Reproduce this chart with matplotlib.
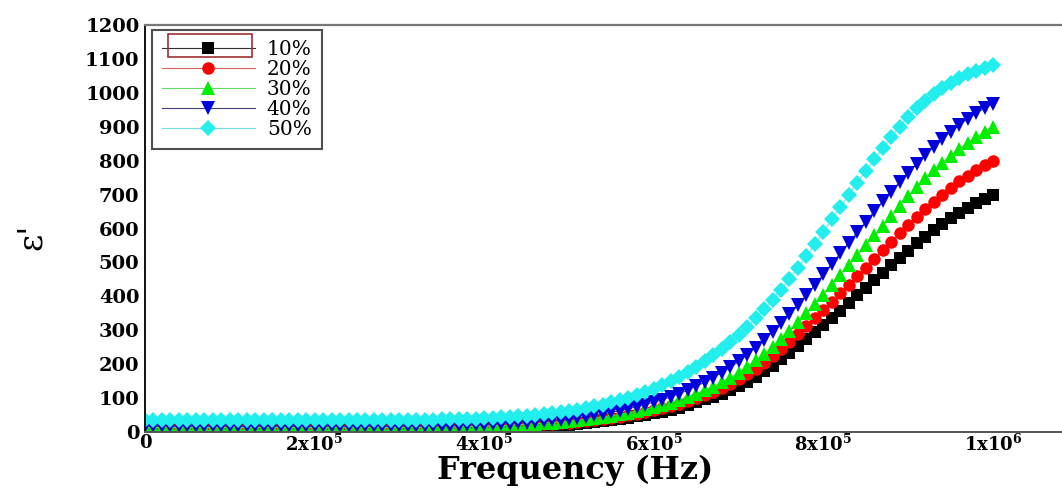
import numpy as np
import matplotlib
matplotlib.use('Agg')
import matplotlib.pyplot as plt
from matplotlib.patches import Rectangle

# ---------------- data ----------------
freq_hz = np.arange(101) * 1e4

eps_10 = [8, 8, 8, 8, 8, 8, 8, 8, 8, 8, 8, 8, 8, 8, 8, 8, 8, 8, 8, 8,
          8, 8, 8, 8, 8, 8, 8, 8, 8, 8, 8,
          8, 8, 9, 9, 9, 9, 10, 10, 10, 11,
          11.5, 12, 13, 14, 15, 16, 17, 18.5, 20, 22,
          24, 26, 28.5, 31.5, 35, 38.5, 42, 46, 50.5, 55,
          60, 65.5, 71.5, 79, 88, 96, 104.5, 113.5, 124, 135,
          148, 163, 179, 196, 215, 234, 254, 274, 294.5, 315,
          336, 358, 380, 402.5, 425, 447.5, 470, 492, 513.5, 535,
          556, 576, 595.5, 613.5, 630, 646, 661, 675, 688, 700]

eps_20 = [12, 12, 12, 12, 12, 12, 12, 12, 12, 12, 12, 12, 12, 12, 12, 12, 12, 12, 12, 12,
          12, 12, 12, 12, 12, 12, 12, 12, 12, 12, 12,
          12, 12, 13, 13, 13, 14, 14, 14, 15, 15,
          16, 17, 18, 19, 20, 21.5, 23, 24.5, 26, 28,
          30.5, 33, 35.5, 38.5, 42, 45.5, 49.5, 53.5, 58.5, 64,
          70, 76.5, 83.5, 91.5, 100, 109, 118.5, 129, 141, 155,
          170, 186.5, 204.5, 224, 245, 266.5, 289, 312, 336, 360,
          384.5, 409.5, 434.5, 460, 485, 510.5, 536, 561, 585.5, 610,
          634, 657, 679, 700, 720, 739, 756, 772, 787, 800]

eps_30 = [13, 13, 13, 13, 13, 13, 13, 13, 13, 13, 13, 13, 13, 13, 13, 13, 13, 13, 13, 13,
          13, 13, 13, 13, 13, 13, 13, 13, 13, 13, 13,
          13, 13, 14, 14, 14, 15, 15, 16, 16, 17,
          18, 19, 20.5, 21.5, 23, 24.5, 26, 28, 30, 32,
          34.5, 37.5, 40.5, 44, 48, 52, 56.5, 61.5, 67, 73,
          79.5, 86.5, 94, 103, 113, 123, 134, 146, 160, 175,
          192, 211, 231, 252, 275, 299, 324, 350, 377, 405,
          433.5, 462.5, 491.5, 520.5, 550, 579.5, 608.5, 637.5, 666.5, 695,
          722.5, 748, 772, 794.5, 815, 834.5, 852.5, 869.5, 885.5, 900]

eps_40 = [17, 17, 17, 17, 17, 17, 17, 17, 17, 17, 17, 17, 17, 17, 17, 17, 17, 17, 17, 17,
          17, 17, 17, 17, 17, 17, 17, 17, 17, 17, 17,
          17, 17, 18, 18, 18, 19, 19, 20, 20, 21,
          22.5, 24, 25, 26.5, 28, 30, 32, 34, 36.5, 39,
          42, 45.5, 49, 53.5, 58, 63, 68.5, 74.5, 81, 88,
          95.5, 104, 113, 123.5, 135, 147, 160.5, 175, 190.5, 208,
          227.5, 249, 271.5, 295, 320, 346.5, 374.5, 404, 434, 465,
          496, 527, 558, 589, 620, 650.5, 680, 709, 737.5, 765,
          791.5, 816.5, 840.5, 863.5, 885, 905, 923, 939.5, 954.5, 968]

eps_50 = [35, 35, 35, 35, 35, 35, 35, 35, 35, 35, 35, 35, 35, 35, 35, 35, 35, 35, 35, 35,
          35, 35, 35, 35, 35, 35, 35, 35, 35, 35, 35,
          35, 35, 36, 36, 37, 37, 38, 38, 39, 40,
          41.5, 43, 44.5, 46, 48, 50, 52.5, 55, 58.5, 62,
          66, 70.5, 75.5, 81, 87, 94, 101.5, 109.5, 118.5, 128,
          138.5, 150, 162.5, 176.5, 192, 208.5, 226, 244.5, 264, 285,
          309, 335, 362, 390.5, 420, 451.5, 484.5, 518.5, 553.5, 590,
          627, 663.5, 699.5, 735, 770, 804.5, 837.5, 869.5, 900.5, 930,
          955, 977, 997, 1015, 1030, 1043, 1054.5, 1065, 1074.5, 1083]

series_labels = ['10%', '20%', '30%', '40%', '50%']
series_values = [eps_10, eps_20, eps_30, eps_40, eps_50]

x_ticks = [0, 2e5, 4e5, 6e5, 8e5, 1e6]
x_tick_labels = ['0', '2x10$^{5}$', '4x10$^{5}$', '6x10$^{5}$', '8x10$^{5}$', '1x10$^{6}$']
y_ticks = list(range(0, 1201, 100))

# ---------------- styles ----------------
marker_colors = ['#000000', '#ff0000', '#00ee00', '#0000dd', '#22eeee']
line_colors = ['#303030', '#e06060', '#60dd60', '#404080', '#70e0e0']
markers = ['s', 'o', '^', 'v', 'D']
msizes = [8.5, 9, 10.5, 10.5, 8.5]

plt.rcParams['mathtext.fontset'] = 'custom'
plt.rcParams['mathtext.rm'] = 'DejaVu Serif:bold'
plt.rcParams['mathtext.it'] = 'DejaVu Serif:bold'
plt.rcParams['mathtext.bf'] = 'DejaVu Serif:bold'

fig = plt.figure(figsize=(10.62, 4.88), dpi=100)
ax = fig.add_axes([145 / 1062, 56 / 488, 1 - 145 / 1062, 407 / 488])

for vals, lab, mk, mc, lc, ms in zip(series_values, series_labels, markers,
                                     marker_colors, line_colors, msizes):
    ax.plot(freq_hz, vals, color=lc, lw=0.8, marker=mk, markersize=ms,
            markerfacecolor=mc, markeredgecolor=mc, markeredgewidth=0, label=lab)

ax.set_xlim(0, 1e6 * (1062 - 145) / 848)
ax.set_ylim(0, 1200)
ax.set_xticks(x_ticks)
ax.set_xticklabels(x_tick_labels)
ax.set_yticks(y_ticks)
ax.tick_params(axis='both', length=0)
ax.tick_params(axis='y', pad=4)
ax.tick_params(axis='x', pad=1.5)
for t in ax.get_yticklabels():
    t.set_fontfamily('DejaVu Serif')
    t.set_fontweight('bold')
    t.set_fontsize(14)
for t in ax.get_xticklabels():
    t.set_fontfamily('DejaVu Serif')
    t.set_fontweight('bold')
    t.set_fontsize(13)

ax.spines['right'].set_visible(False)
ax.spines['left'].set_color('#101010')
ax.spines['left'].set_linewidth(1.4)
ax.spines['top'].set_color('#777777')
ax.spines['top'].set_linewidth(1.6)
ax.spines['bottom'].set_color('#555555')
ax.spines['bottom'].set_linewidth(1.4)

ax.set_xlabel('Frequency (Hz)', fontfamily='DejaVu Serif', fontweight='bold',
              fontsize=23, va='baseline')
ax.xaxis.set_label_coords((575 - 145) / 917, -(479 - 432) / 407)

fig.text(32 / 1062, 1 - 237 / 488, "\u03b5'", rotation=90, fontsize=24,
         fontfamily='DejaVu Serif', ha='center', va='center')

leg = ax.legend(loc='upper left', bbox_to_anchor=(7 / 917, 1 - 5 / 407),
                borderaxespad=0, frameon=True, fancybox=False,
                edgecolor='#222222', handlelength=4.6, handletextpad=0.6,
                labelspacing=0.05, borderpad=0.5,
                prop={'family': 'DejaVu Serif', 'size': 14.5})
leg.get_frame().set_linewidth(1.5)

# selection box seen around the first legend handle
fig.patches.append(Rectangle((168 / 1062, 1 - 57 / 488), 84 / 1062, 23 / 488,
                             transform=fig.transFigure, fill=False,
                             edgecolor='#a03030', lw=1.2))

fig.savefig('out.png', dpi=100)
